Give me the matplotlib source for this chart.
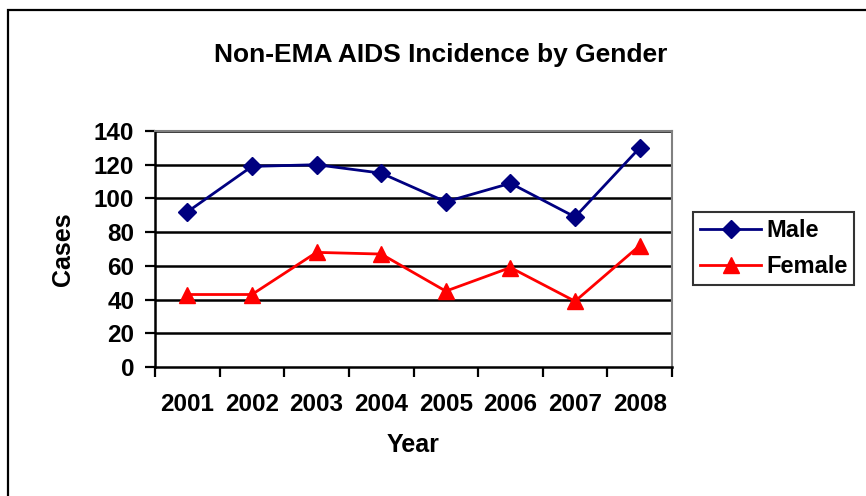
import matplotlib
matplotlib.use('Agg')
import matplotlib.pyplot as plt
from matplotlib.patches import Rectangle

plt.rcParams['font.family'] = ['Liberation Sans', 'DejaVu Sans']
plt.rcParams['font.weight'] = 'bold'

# 数据
years = ['2001', '2002', '2003', '2004', '2005', '2006', '2007', '2008']
male = [92, 119, 120, 115, 98, 109, 89, 130]
female = [43, 43, 68, 67, 45, 59, 39, 72]
y_ticks = [0, 20, 40, 60, 80, 100, 120, 140]

W, H = 866, 496
fig = plt.figure(figsize=(W / 100, H / 100), dpi=100)
fig.patch.set_facecolor('white')

# 外框
fig.patches.append(Rectangle((8 / W, -0.05), 1.2, 1 - 10 / H + 0.05, transform=fig.transFigure,
                             fill=False, edgecolor='black', linewidth=1.6))

ax = fig.add_axes([155 / W, 1 - 367 / H, (672 - 155) / W, (367 - 131) / H])
x = list(range(1, len(years) + 1))

ax.plot(x, male, color='#000080', linewidth=2, marker='D', markersize=9, label='Male', zorder=3)
ax.plot(x, female, color='#FF0000', linewidth=2, marker='^', markersize=11, label='Female', zorder=3)

ax.set_xlim(0.5, len(years) + 0.5)
ax.set_ylim(0, 140)
ax.set_yticks(y_ticks)
for t in y_ticks[1:]:
    ax.axhline(t, color='black', linewidth=1.8, zorder=1)

# x轴刻度在类别之间
ax.set_xticks([i + 0.5 for i in range(0, len(years) + 1)])
ax.set_xticklabels([])
ax.set_xticks(x, minor=True)
ax.set_xticklabels(years, minor=True)
ax.tick_params(axis='x', which='major', direction='out', length=7, width=1.6)
ax.tick_params(axis='x', which='minor', length=0, pad=19, labelsize=17.5)
ax.tick_params(axis='y', direction='out', length=7, width=1.6, pad=8, labelsize=17.5)

for s in ['top', 'right']:
    ax.spines[s].set_color('#808080')
    ax.spines[s].set_linewidth(1.5)
for s in ['left', 'bottom']:
    ax.spines[s].set_color('black')
    ax.spines[s].set_linewidth(1.8)

fig.text(441 / W, 1 - 55 / H, 'Non-EMA AIDS Incidence by Gender', ha='center', va='center',
         fontsize=19, fontweight='bold')
fig.text(413 / W, 1 - 445 / H, 'Year', ha='center', va='center', fontsize=18, fontweight='bold')
fig.text(63 / W, 1 - 249 / H, 'Cases', ha='center', va='center', rotation=90,
         fontsize=18, fontweight='bold')

leg = ax.legend(loc='center left', bbox_to_anchor=(693 / W, 1 - 286 / H, (854 - 693) / W, (286 - 211) / H),
                bbox_transform=fig.transFigure, mode='expand', frameon=True, fancybox=False,
                fontsize=17, handlelength=2.6, borderpad=0.3, labelspacing=0.55, handletextpad=0.2,
                borderaxespad=0)
leg.get_frame().set_edgecolor('black')
leg.get_frame().set_linewidth(1.5)

fig.savefig('out.png', dpi=100, facecolor='white')
